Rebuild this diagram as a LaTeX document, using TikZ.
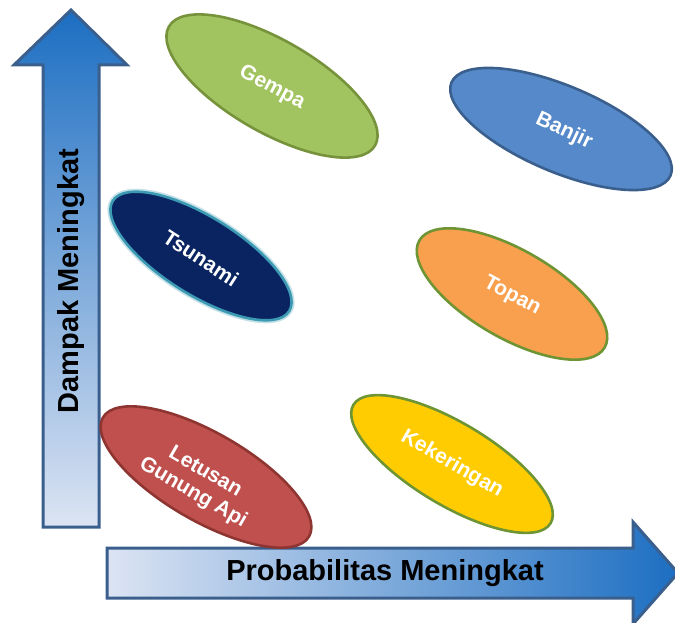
\documentclass[tikz,border=0pt]{standalone}
\usepackage{fontspec}
\setmainfont{Liberation Sans}
\usetikzlibrary{shapes.geometric}

\definecolor{arrowline}{HTML}{3A5F8D}
\definecolor{arrowdark}{HTML}{1C6EC2}
\definecolor{arrowmid}{HTML}{A9C2E7}
\definecolor{arrowlight}{HTML}{DCE4F3}
\definecolor{gempafill}{HTML}{A2C460}
\definecolor{gempaline}{HTML}{76933C}
\definecolor{banjirfill}{HTML}{5589CA}
\definecolor{banjirline}{HTML}{3A5F8D}
\definecolor{tsunamifill}{HTML}{0A2462}
\definecolor{tsunamiline}{HTML}{3C9BB3}
\definecolor{topanfill}{HTML}{F9A04E}
\definecolor{kekeringanfill}{HTML}{FFCC02}
\definecolor{greenline}{HTML}{6E9434}
\definecolor{letusanfill}{HTML}{C0504D}
\definecolor{letusanline}{HTML}{8E3532}

\tikzset{
  hazard/.style={ellipse, inner sep=0pt, line width=2.6pt},
  hazardtext/.style={text=white, font=\bfseries\fontsize{21}{24}\selectfont, align=center, inner sep=0pt},
  axislabel/.style={text=black, font=\bfseries\fontsize{29}{29}\selectfont, inner sep=0pt},
  arrowbody/.style={draw=arrowline, line width=3pt, line join=miter}
}

\begin{document}
\begin{tikzpicture}[x=1pt, y=-1pt]
\useasboundingbox (0,0) rectangle (675,623);

% vertical axis arrow (impact)
\path[arrowbody, top color=arrowdark, middle color=arrowmid, bottom color=arrowlight]
  (43,527) -- (43,65) -- (14,65) -- (71,10) -- (127,65) -- (99,65) -- (99,527) -- cycle;
\node[axislabel, rotate=90] (dampak) at (71,281) {Dampak Meningkat};

% horizontal axis arrow (probability)
\path[arrowbody, left color=arrowlight, middle color=arrowmid!75!arrowlight, right color=arrowdark]
  (107,548) -- (633,548) -- (633,522) -- (678,573) -- (633,624) -- (633,598) -- (107,598) -- cycle;
\node[axislabel] (prob) at (385,573) {Probabilitas Meningkat};

% hazard ellipses
\node[hazard, fill=gempafill, draw=gempaline, minimum width=238, minimum height=92, rotate=-30] (gempa) at (272,86) {};
\node[hazardtext, rotate=-28] (gempa-t) at (272,88) {Gempa};

\node[hazard, fill=banjirfill, draw=banjirline, minimum width=238, minimum height=86, rotate=-23] (banjir) at (561,129) {};
\node[hazardtext, rotate=-25] (banjir-t) at (564,131) {Banjir};

\node[hazard, draw=tsunamiline!60, line width=6pt, minimum width=208, minimum height=78, rotate=-32, opacity=0.5] (tsunami-glow) at (201,256) {};
\node[hazard, fill=tsunamifill, draw=tsunamiline, minimum width=208, minimum height=78, rotate=-32] (tsunami) at (201,256) {};
\node[hazardtext, rotate=-33] (tsunami-t) at (201,258) {Tsunami};

\node[hazard, fill=topanfill, draw=greenline, minimum width=214, minimum height=88, rotate=-30] (topan) at (512,294) {};
\node[hazardtext, rotate=-28] (topan-t) at (512,296) {Topan};

\node[hazard, fill=kekeringanfill, draw=greenline, minimum width=230, minimum height=82, rotate=-31] (kekeringan) at (452,464) {};
\node[hazardtext, rotate=-30] (kekeringan-t) at (452,464) {Kekeringan};

\node[hazard, fill=letusanfill, draw=letusanline, minimum width=238, minimum height=88, rotate=-30] (letusan) at (206,477) {};
\node[hazardtext, rotate=-30] (letusan-t) at (199,483) {Letusan\\Gunung Api};

\end{tikzpicture}
\end{document}
